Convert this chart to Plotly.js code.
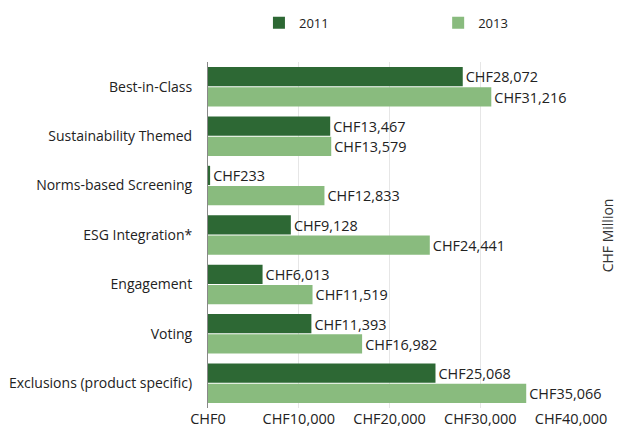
<!DOCTYPE html>
<html>
<head>
<meta charset="utf-8">
<script src="https://cdn.plot.ly/plotly-3.0.1.min.js"></script>
<style>html,body{margin:0;padding:0;background:#fff}#chart{width:618px;height:430px}</style>
</head>
<body>
<div id="chart"></div>
<script>
const categories = ["Best-in-Class","Sustainability Themed","Norms-based Screening","ESG Integration*","Engagement","Voting","Exclusions (product specific)"];
const values2011 = [28072, 13467, 233, 9128, 6013, 11393, 25068];
const values2013 = [31216, 13579, 12833, 24441, 11519, 16982, 35066];
const xTicks = [0, 10000, 20000, 30000, 40000];
const xTickText = ["CHF0", "CHF10,000", "CHF20,000", "CHF30,000", "CHF40,000"];

const font = "Open Sans, DejaVu Sans, sans-serif";
const traces = [
  {type:"bar", orientation:"h", name:"2011", y:categories, x:values2011, legend:"legend",
   marker:{color:"#2d6834"}, texttemplate:"CHF%{x:,}", textposition:"outside",
   textfont:{family:font, size:15, color:"#222"}, cliponaxis:false, hoverinfo:"x"},
  {type:"bar", orientation:"h", name:"2013", y:categories, x:values2013, legend:"legend2",
   marker:{color:"#89bb7e"}, texttemplate:"CHF%{x:,}", textposition:"outside",
   textfont:{family:font, size:15, color:"#222"}, cliponaxis:false, hoverinfo:"x"}
];
const legendBase = {orientation:"h", xref:"container", yref:"container", y:0.982, xanchor:"left", yanchor:"top",
                    font:{family:font, size:13, color:"#222"}, bgcolor:"rgba(0,0,0,0)"};
const layout = {
  width:618, height:430,
  margin:{l:208, r:47, t:62, b:22},
  paper_bgcolor:"#fff", plot_bgcolor:"#fff",
  font:{family:font, size:13, color:"#222"},
  barmode:"group", bargap:0.18, bargroupgap:0.05,
  showlegend:true,
  legend:Object.assign({x:0.419}, legendBase),
  legend2:Object.assign({x:0.709}, legendBase),
  xaxis:{range:[0,40000], tickvals:xTicks, ticktext:xTickText, showgrid:true, gridcolor:"#e6e6e6",
         zeroline:false, showline:false, ticks:"", tickfont:{family:font, size:14.5, color:"#222"}, automargin:false},
  yaxis:{autorange:"reversed", showline:true, linecolor:"#888", linewidth:1, ticks:"", ticklabelstandoff:12,
         tickfont:{family:font, size:14, color:"#222"}, automargin:false, showgrid:false},
  annotations:[{text:"CHF Million", xref:"paper", yref:"paper", x:1.10, y:0.5, textangle:-90, showarrow:false,
                font:{family:font, size:14, color:"#333"}, xanchor:"center", yanchor:"middle"}]
};
Plotly.newPlot("chart", traces, layout, {displayModeBar:false, staticPlot:true});
</script>
</body>
</html>
